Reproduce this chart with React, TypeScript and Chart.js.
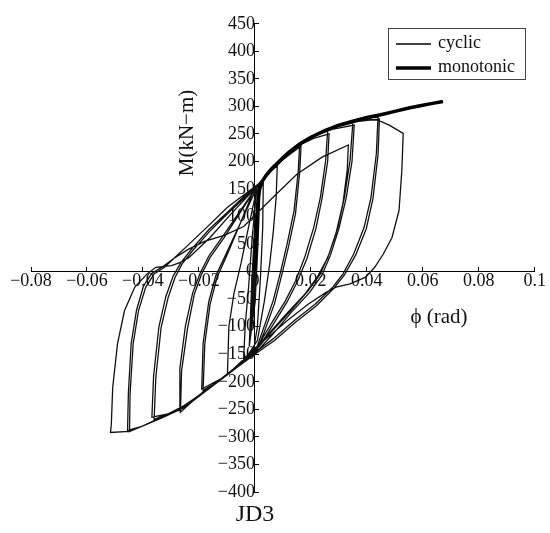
import React, { useEffect, useRef } from 'react';
import { Chart, registerables } from 'chart.js';

Chart.register(...registerables);

// ---------- data ----------
const seriesLabels = ['cyclic', 'monotonic'];
const xTitle = 'ϕ (rad)';
const yTitle = 'M(kN−m)';
const specimen = 'JD3';

const xMin = -0.08;
const xMax = 0.1;
const xStep = 0.02;
const yMin = -400;
const yMax = 450;
const yStep = 50;

type P = [number, number];

const smallCycles: P[] = [
  [0, 0], [0.0006, 70], [0.0012, 115], [0.0006, 30], [-0.0004, -50], [-0.0012, -105], [-0.0006, -30],
  [0.0004, 60], [0.0016, 135], [0.0009, 40], [-0.0002, -60], [-0.0018, -125], [-0.0011, -40],
  [0.0002, 70], [0.0018, 145], [0.0011, 50], [0.0001, -55], [-0.002, -135], [-0.0012, -30],
];

const cycle1: P[] = [
  [-0.0002, 70], [0.001, 125], [0.002, 152], [0.003, 162],
  [0.0028, 80], [0.002, -10], [0.0009, -100], [-0.0004, -140], [-0.004, -158],
  [-0.0035, -100], [-0.0022, -25], [-0.001, 60], [0.0005, 140], [0.002, 160],
];

const cycle2: P[] = [
  [0.004, 172], [0.006, 184], [0.008, 192],
  [0.0076, 135], [0.0066, 74], [0.0053, 14], [0.0034, -53], [0.0009, -125], [-0.003, -155], [-0.0065, -173], [-0.0098, -186],
  [-0.0093, -100], [-0.0075, -40], [-0.005, 14], [-0.0023, 80], [0.0009, 156],
];

const cycle3: P[] = [
  [0.005, 180], [0.008, 195], [0.012, 215], [0.016, 232],
  [0.0155, 183], [0.014, 111], [0.0115, 50], [0.009, -4], [0.0065, -53], [0.0028, -107], [0.0003, -143],
  [-0.005, -166], [-0.01, -188], [-0.015, -205], [-0.0185, -215],
  [-0.0179, -131], [-0.016, -59], [-0.0135, -10], [-0.0098, 32], [-0.0048, 93], [-0.001, 140], [0.001, 158],
  [0.005, 178], [0.01, 203], [0.0165, 228],
  [0.016, 180], [0.0145, 105], [0.012, 45], [0.0095, -8], [0.007, -58], [0.0033, -110], [0.0005, -146],
  [-0.006, -171], [-0.012, -194], [-0.019, -213],
  [-0.0185, -130], [-0.0165, -55], [-0.014, -8], [-0.0105, 30], [-0.005, 90], [0.0005, 150],
];

const cycle4: P[] = [
  [0.004, 172], [0.008, 195], [0.012, 215], [0.016, 232], [0.02, 243], [0.026, 256],
  [0.0253, 202], [0.0234, 135], [0.021, 80], [0.0178, 26], [0.0146, -16], [0.0109, -53], [0.0065, -89], [0.0015, -131], [-0.002, -152],
  [-0.007, -175], [-0.012, -194], [-0.0185, -218], [-0.0225, -236], [-0.0266, -255],
  [-0.0262, -180], [-0.024, -101], [-0.0216, -40], [-0.019, -4], [-0.016, 26], [-0.011, 62], [-0.0048, 111], [0.0009, 156],
  [0.005, 178], [0.01, 204], [0.016, 230], [0.021, 242], [0.0265, 250],
  [0.026, 200], [0.024, 133], [0.0218, 78], [0.0186, 24], [0.0152, -18], [0.0115, -55], [0.007, -92], [0.002, -133], [-0.002, -150],
  [-0.008, -180], [-0.015, -206], [-0.021, -228], [-0.027, -252],
  [-0.0268, -175], [-0.0248, -98], [-0.0222, -38], [-0.0195, -2], [-0.0165, 28], [-0.0115, 64], [-0.005, 112], [0.001, 157],
];

const cycle5: P[] = [
  [0.005, 180], [0.01, 205], [0.016, 232], [0.022, 248], [0.028, 261], [0.035, 270],
  [0.034, 202], [0.032, 135], [0.0296, 80], [0.0265, 32], [0.0234, -4], [0.019, -35], [0.0128, -71], [0.0053, -113], [0.0003, -143],
  [-0.006, -172], [-0.012, -195], [-0.02, -225], [-0.028, -252], [-0.036, -268],
  [-0.0354, -192], [-0.0335, -101], [-0.031, -47], [-0.0285, -10], [-0.026, 14], [-0.0223, 38], [-0.016, 74], [-0.0098, 105], [-0.0035, 135], [0.0009, 156],
  [0.006, 185], [0.012, 214], [0.02, 244], [0.028, 259], [0.0355, 266],
  [0.0347, 200], [0.0326, 133], [0.03, 78], [0.027, 30], [0.024, -6], [0.0195, -38], [0.013, -74], [0.006, -116], [0.0005, -146],
  [-0.007, -176], [-0.015, -206], [-0.024, -240], [-0.031, -258], [-0.0368, -264],
  [-0.0362, -190], [-0.0343, -100], [-0.0318, -45], [-0.0292, -8], [-0.0265, 16], [-0.0228, 40], [-0.0165, 76], [-0.01, 107], [-0.004, 136], [0.001, 157],
];

const cycle6: P[] = [
  [0.005, 180], [0.012, 215], [0.02, 245], [0.028, 262], [0.035, 272], [0.04, 278], [0.044, 281],
  [0.0434, 214], [0.0415, 135], [0.039, 80], [0.0353, 32], [0.0315, -4], [0.0278, -28], [0.0215, -59], [0.014, -89], [0.0065, -122], [0.0003, -146],
  [-0.007, -176], [-0.015, -207], [-0.024, -242], [-0.032, -262], [-0.04, -280], [-0.0448, -290],
  [-0.0446, -222], [-0.0435, -131], [-0.0416, -71], [-0.039, -28], [-0.036, -4], [-0.0323, 8], [-0.0285, 26], [-0.0235, 50], [-0.0173, 80], [-0.0098, 117], [-0.003, 143], [0.001, 158],
  [0.006, 185], [0.014, 224], [0.022, 250], [0.03, 265], [0.037, 273], [0.0445, 277],
  [0.044, 212], [0.0422, 133], [0.0398, 78], [0.036, 30], [0.032, -6], [0.0282, -30], [0.022, -62], [0.0145, -92], [0.007, -125], [0.0005, -148],
  [-0.008, -180], [-0.017, -214], [-0.026, -248], [-0.034, -266], [-0.041, -282], [-0.0455, -288],
  [-0.0452, -220], [-0.0442, -130], [-0.0423, -70], [-0.0398, -26], [-0.0368, -3], [-0.033, 9], [-0.029, 24], [-0.024, 40], [-0.018, 55], [-0.011, 66],
];

const cycle7: P[] = [
  [-0.004, 82], [0.0065, 135], [0.015, 177], [0.024, 208], [0.0334, 230],
  [0.033, 185], [0.0315, 125], [0.029, 70], [0.026, 25], [0.0225, -8], [0.018, -40], [0.011, -78], [0.004, -118], [-0.001, -145],
  [-0.008, -178], [-0.016, -210], [-0.025, -246], [-0.033, -265], [-0.04, -280], [-0.045, -290], [-0.0516, -292],
  [-0.0513, -277], [-0.0508, -210], [-0.0491, -131], [-0.0466, -71], [-0.0429, -28], [-0.0385, -4], [-0.0354, 8], [-0.0298, 11], [-0.0266, 17], [-0.0235, 26], [-0.016, 62], [-0.0085, 105], [-0.002, 140], [0.001, 157],
];

const finalExcursion: P[] = [
  [0.006, 186], [0.014, 225], [0.022, 250], [0.03, 266], [0.036, 274], [0.04, 277], [0.044, 275], [0.048, 266], [0.053, 251],
  [0.0525, 183], [0.0515, 111], [0.049, 62], [0.0459, 32], [0.0428, 8], [0.0396, -10], [0.034, -22], [0.029, -28], [0.0253, -38], [0.019, -59], [0.0115, -89], [0.004, -122], [-0.001, -143],
];

const monotonic: P[] = [
  [0, 0], [0.0004, 60], [0.0008, 105], [0.0012, 135], [0.0018, 152], [0.0025, 163], [0.004, 175], [0.006, 187],
  [0.009, 202], [0.012, 216], [0.016, 232], [0.02, 244], [0.025, 256], [0.03, 266], [0.035, 273], [0.04, 280],
  [0.045, 285], [0.05, 291], [0.055, 297], [0.06, 302], [0.064, 306], [0.0672, 309],
];

const cyclic: P[] = [
  ...smallCycles, ...cycle1, ...cycle2, ...cycle3, ...cycle4, ...cycle5, ...cycle6, ...cycle7, ...finalExcursion,
];

// ---------- helpers ----------
const toPoints = (pairs: P[]) => pairs.map(([x, y]) => ({ x, y }));
const minus = (s: string) => s.replace('-', '\u2212');
const fmtX = (v: number) => {
  const s = Number(v).toFixed(2).replace(/0+$/, '').replace(/\.$/, '');
  return minus(s === '-0' ? '0' : s);
};
const FONT = '"Liberation Serif", "Times New Roman", serif';

export default function App() {
  const ref = useRef<HTMLCanvasElement>(null);

  useEffect(() => {
    document.body.style.margin = '0';
    const canvas = ref.current;
    if (!canvas) return;

    const overlay = {
      id: 'overlay',
      afterDraw(chart: any) {
        const ctx = chart.ctx as CanvasRenderingContext2D;
        ctx.save();
        ctx.fillStyle = '#111';
        // y title (rotated)
        ctx.save();
        ctx.translate(187, 133);
        ctx.rotate(-Math.PI / 2);
        ctx.font = `21px ${FONT}`;
        ctx.textAlign = 'center';
        ctx.textBaseline = 'middle';
        ctx.fillText(yTitle, 0, 0);
        ctx.restore();
        // x title
        ctx.font = `21px ${FONT}`;
        ctx.textAlign = 'center';
        ctx.textBaseline = 'middle';
        ctx.fillText(xTitle, 439, 317);
        // specimen label
        ctx.font = `24px ${FONT}`;
        ctx.fillText(specimen, 255, 515);
        // legend
        ctx.strokeStyle = '#444';
        ctx.lineWidth = 1;
        ctx.strokeRect(388.5, 28.5, 137, 51);
        const ds = chart.data.datasets;
        const rows = [44, 68];
        ds.forEach((d: any, i: number) => {
          ctx.beginPath();
          ctx.strokeStyle = '#000';
          ctx.lineWidth = d.borderWidth;
          ctx.moveTo(396, rows[i]);
          ctx.lineTo(431, rows[i]);
          ctx.stroke();
          ctx.font = `18px ${FONT}`;
          ctx.textAlign = 'left';
          ctx.textBaseline = 'middle';
          ctx.fillText(d.label, 438, rows[i] - 1);
        });
        ctx.restore();
      },
    };

    const chart = new Chart(canvas, {
      type: 'scatter',
      data: {
        datasets: [
          {
            label: seriesLabels[0],
            data: toPoints(cyclic),
            showLine: true,
            borderColor: '#111',
            borderWidth: 1.3,
            pointRadius: 0,
            tension: 0,
            order: 1,
          },
          {
            label: seriesLabels[1],
            data: toPoints(monotonic),
            showLine: true,
            borderColor: '#000',
            borderWidth: 3.5,
            pointRadius: 0,
            tension: 0,
            order: 0,
          },
        ],
      } as any,
      options: {
        responsive: false,
        animation: false,
        devicePixelRatio: 1,
        layout: { padding: { left: 31, right: 13, top: 16, bottom: 41 } },
        plugins: { legend: { display: false }, tooltip: { enabled: false } },
        scales: {
          x: {
            type: 'linear',
            min: xMin,
            max: xMax,
            position: { y: 0 } as any,
            ticks: {
              stepSize: xStep,
              callback: (v: any) => fmtX(Number(v)),
              color: '#111',
              font: { family: FONT, size: 18 },
              padding: 4,
              maxRotation: 0,
              autoSkip: false,
            },
            grid: { drawOnChartArea: false, tickLength: -5, color: '#000' },
            border: { color: '#000', width: 1 },
          },
          y: {
            type: 'linear',
            min: yMin,
            max: yMax,
            position: { x: 0 } as any,
            ticks: {
              stepSize: yStep,
              callback: (v: any) => minus(String(v)),
              color: '#111',
              font: { family: FONT, size: 18 },
              padding: 13,
              autoSkip: false,
            },
            grid: { drawOnChartArea: false, tickLength: -5, color: '#000' },
            border: { color: '#000', width: 1 },
          },
        },
      } as any,
      plugins: [overlay],
    });

    return () => chart.destroy();
  }, []);

  return <canvas ref={ref} width={550} height={533} style={{ display: 'block' }} />;
}
